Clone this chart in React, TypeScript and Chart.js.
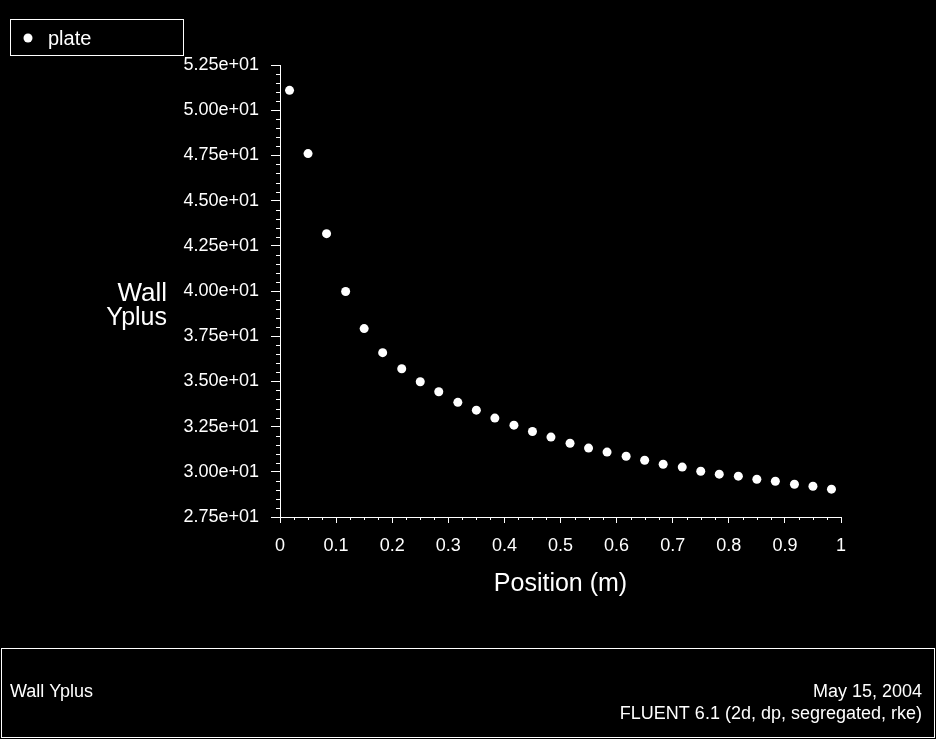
import { useEffect, useRef } from 'react';
import Chart, { ChartConfiguration, Plugin } from 'chart.js/auto';

// Wall y+ along the plate (FLUENT 6.1 export)
const positions = [
  0.017, 0.05, 0.083, 0.117, 0.15, 0.183, 0.217, 0.25, 0.283, 0.317,
  0.35, 0.383, 0.417, 0.45, 0.483, 0.517, 0.55, 0.583, 0.617, 0.65,
  0.683, 0.717, 0.75, 0.783, 0.817, 0.85, 0.883, 0.917, 0.95, 0.983,
];
const wallYplus = [
  51.1, 47.6, 43.17, 39.97, 37.92, 36.59, 35.7, 34.98, 34.43, 33.84,
  33.41, 32.97, 32.58, 32.23, 31.92, 31.58, 31.31, 31.09, 30.86, 30.64,
  30.42, 30.26, 30.03, 29.87, 29.76, 29.59, 29.48, 29.31, 29.2, 29.04,
];
const seriesName = 'plate';
const yTitle = ['Wall', 'Yplus'];
const xTitle = 'Position (m)';
const footerLeft = 'Wall Yplus';
const footerRight = ['May 15, 2004', 'FLUENT 6.1 (2d, dp, segregated, rke)'];

const FONT = '"Liberation Sans", Arial, sans-serif';

const fmtExp = (v: number) => {
  const [m, e] = v.toExponential(2).split('e');
  return `${m}e${e[0]}${e.slice(1).padStart(2, '0')}`;
};

const decorations: Plugin = {
  id: 'fluentDecor',
  afterDraw(chart) {
    const { ctx, chartArea } = chart;
    const xs = chart.scales.x;
    const ys = chart.scales.y;
    ctx.save();
    ctx.strokeStyle = '#fff';
    ctx.fillStyle = '#fff';
    ctx.lineWidth = 1;

    // minor ticks
    ctx.beginPath();
    for (let k = 0; k <= 50; k++) {
      if (k % 5 === 0) continue;
      const py = Math.round(ys.getPixelForValue(27.5 + k * 0.5)) + 0.5;
      ctx.moveTo(chartArea.left - 4, py);
      ctx.lineTo(chartArea.left, py);
    }
    for (let k = 0; k <= 40; k++) {
      if (k % 4 === 0) continue;
      const px = Math.round(xs.getPixelForValue(k * 0.025)) + 0.5;
      ctx.moveTo(px, chartArea.bottom);
      ctx.lineTo(px, chartArea.bottom + 3);
    }
    ctx.stroke();

    // axis titles
    ctx.font = `26px ${FONT}`;
    ctx.textAlign = 'right';
    ctx.textBaseline = 'alphabetic';
    ctx.fillText(yTitle[0], 167, 301);
    ctx.font = `25px ${FONT}`;
    ctx.fillText(yTitle[1], 167, 325);
    ctx.textAlign = 'center';
    ctx.fillText(xTitle, (chartArea.left + chartArea.right) / 2, 591);

    // legend box
    ctx.strokeRect(10.5, 19.5, 173, 36);
    ctx.beginPath();
    ctx.arc(28, 38, 4.5, 0, Math.PI * 2);
    ctx.fill();
    ctx.font = `20px ${FONT}`;
    ctx.textAlign = 'left';
    ctx.fillText(seriesName, 48, 45);

    // footer box
    ctx.strokeRect(1.5, 648.5, 933, 89);
    ctx.font = `18px ${FONT}`;
    ctx.fillText(footerLeft, 10, 697);
    ctx.textAlign = 'right';
    ctx.fillText(footerRight[0], 922, 697);
    ctx.fillText(footerRight[1], 922, 719);
    ctx.restore();
  },
};

const App = () => {
  const canvasRef = useRef<HTMLCanvasElement | null>(null);
  const chartRef = useRef<Chart | null>(null);

  useEffect(() => {
    if (!canvasRef.current) return;
    const ctx = canvasRef.current.getContext('2d');
    if (!ctx) return;
    if (chartRef.current) chartRef.current.destroy();

    chartRef.current = new Chart(ctx, {
      type: 'scatter',
      data: {
        datasets: [
          {
            label: seriesName,
            data: positions.map((x, i) => ({ x, y: wallYplus[i] })),
            backgroundColor: '#fff',
            borderColor: '#fff',
            pointRadius: 4.5,
            pointBorderWidth: 0,
          },
        ],
      },
      options: {
        responsive: false,
        animation: false,
        layout: { padding: { top: 65, right: 95, left: 0, bottom: 0 } },
        plugins: { legend: { display: false }, tooltip: { enabled: false } },
        scales: {
          x: {
            type: 'linear',
            min: 0,
            max: 1,
            afterFit: (s) => { s.height = 222; },
            border: { display: true, color: '#fff', width: 1 },
            grid: { drawOnChartArea: false, color: '#fff', tickLength: 6 },
            ticks: {
              stepSize: 0.1,
              color: '#fff',
              padding: 12,
              maxRotation: 0,
              font: { family: FONT, size: 18 },
              callback: (v) => String(Math.round(Number(v) * 10) / 10),
            },
          },
          y: {
            type: 'linear',
            min: 27.5,
            max: 52.5,
            afterFit: (s) => { s.width = 280; },
            border: { display: true, color: '#fff', width: 1 },
            grid: { drawOnChartArea: false, color: '#fff', tickLength: 9 },
            ticks: {
              stepSize: 2.5,
              color: '#fff',
              padding: 12,
              font: { family: FONT, size: 18 },
              callback: (v) => fmtExp(Number(v)),
            },
          },
        },
      },
      plugins: [decorations],
    } as ChartConfiguration);

    return () => {
      if (chartRef.current) {
        chartRef.current.destroy();
        chartRef.current = null;
      }
    };
  }, []);

  return (
    <div
      style={{
        position: 'fixed',
        left: 0,
        top: 0,
        width: 936,
        height: 739,
        background: '#000',
      }}
    >
      <canvas ref={canvasRef} width={936} height={739} />
    </div>
  );
};

export default App;
